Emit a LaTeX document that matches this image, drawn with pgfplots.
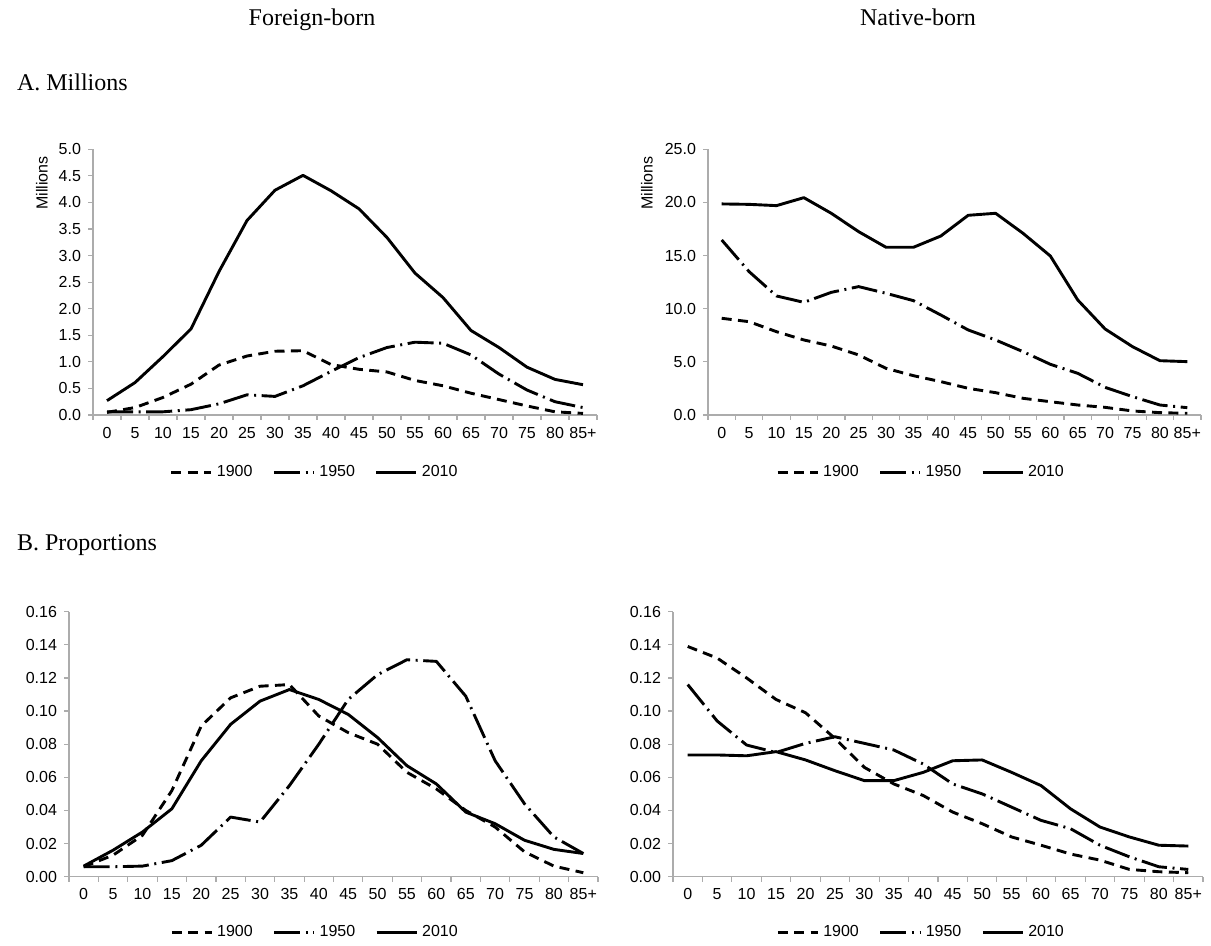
\documentclass[border=0pt]{standalone}
\usepackage{fontspec}
\setmainfont{Liberation Serif}
\newfontfamily\arial{Liberation Sans}
\usepackage{pgfplots}
\usepackage{pgfplotstable}
\pgfplotsset{compat=1.18}

\pgfplotstableread{
x y1900 y1950 y2010
0 0.05 0.06 0.27
1 0.14 0.06 0.61
2 0.33 0.06 1.10
3 0.58 0.10 1.62
4 0.94 0.21 2.70
5 1.11 0.38 3.66
6 1.20 0.35 4.23
7 1.21 0.55 4.51
8 0.95 0.82 4.22
9 0.86 1.08 3.88
10 0.81 1.27 3.34
11 0.65 1.37 2.67
12 0.55 1.35 2.21
13 0.41 1.13 1.59
14 0.29 0.77 1.27
15 0.17 0.47 0.90
16 0.06 0.25 0.67
17 0.03 0.14 0.57
}\FM

\pgfplotstableread{
x y1900 y1950 y2010
0 9.10 16.47 19.86
1 8.78 13.49 19.82
2 7.84 11.20 19.70
3 7.06 10.60 20.45
4 6.49 11.54 18.98
5 5.65 12.08 17.25
6 4.39 11.45 15.78
7 3.70 10.76 15.78
8 3.14 9.41 16.84
9 2.51 8.00 18.79
10 2.10 7.06 18.98
11 1.57 5.96 17.10
12 1.25 4.77 14.96
13 0.94 3.92 10.82
14 0.72 2.60 8.09
15 0.38 1.73 6.43
16 0.22 0.94 5.11
17 0.16 0.69 5.02
}\NM

\pgfplotstableread{
x y1900 y1950 y2010
0 0.006 0.006 0.0064
1 0.013 0.006 0.016
2 0.025 0.0064 0.027
3 0.052 0.0097 0.041
4 0.091 0.019 0.070
5 0.108 0.036 0.092
6 0.115 0.033 0.106
7 0.116 0.055 0.113
8 0.097 0.080 0.107
9 0.087 0.107 0.098
10 0.080 0.122 0.084
11 0.063 0.131 0.067
12 0.053 0.130 0.056
13 0.040 0.109 0.039
14 0.030 0.070 0.032
15 0.015 0.044 0.022
16 0.0064 0.024 0.0165
17 0.0024 0.014 0.014
}\FP

\pgfplotstableread{
x y1900 y1950 y2010
0 0.139 0.116 0.0735
1 0.132 0.094 0.0735
2 0.120 0.0795 0.073
3 0.107 0.075 0.0755
4 0.099 0.0805 0.0705
5 0.0835 0.0845 0.064
6 0.066 0.0805 0.058
7 0.056 0.0765 0.058
8 0.049 0.068 0.063
9 0.039 0.056 0.070
10 0.032 0.050 0.0705
11 0.024 0.042 0.063
12 0.019 0.034 0.055
13 0.0137 0.029 0.041
14 0.010 0.019 0.030
15 0.0044 0.012 0.024
16 0.003 0.006 0.019
17 0.0024 0.0044 0.0185
}\NP

\pgfplotsset{
  excel/.style={
    scale only axis,
    anchor=south west,
    xmin=-0.5, xmax=17.5,
    xtick={0,...,17},
    xticklabels={0,5,10,15,20,25,30,35,40,45,50,55,60,65,70,75,80,85+},
    minor xtick={-0.5,0.5,...,17.5},
    major x tick style={draw=none},
    tick align=outside,
    major tick length=2.5pt,
    minor tick length=2.5pt,
    axis x line*=bottom,
    axis y line*=left,
    axis line style={-, draw=gray!65, line width=0.6pt},
    every tick/.style={gray!65, line width=0.6pt},
    tick label style={font=\arial\fontsize{8}{9.6}\selectfont, text=black},
    /pgf/number format/assume math mode=true,
    legend columns=3,
    legend style={draw=none, fill=none, font=\arial\fontsize{8}{9.6}\selectfont, anchor=center,
      /tikz/every even column/.append style={column sep=8pt}},
    legend image code/.code={\draw[##1] (0pt,0pt) -- (20pt,0pt);},
    clip=false,
  },
  s1900/.style={black, line width=1.45pt, line join=round, dash pattern=on 5pt off 3.2pt},
  s1950/.style={black, line width=1.45pt, line join=round, dash pattern=on 13pt off 2.8pt on 1pt off 2.8pt},
  s2010/.style={black, line width=1.45pt, line join=round},
}

\begin{document}
\begin{tikzpicture}
\useasboundingbox (0,0) rectangle (605.5pt,-473pt);

\node[font=\fontsize{12}{14}\selectfont, anchor=base] at (156pt,-13pt) {Foreign-born};
\node[font=\fontsize{12}{14}\selectfont, anchor=base] at (459pt,-13pt) {Native-born};
\node[font=\fontsize{12}{14}\selectfont, anchor=west] at (5pt,-41pt) {A. Millions};
\node[font=\fontsize{12}{14}\selectfont, anchor=west] at (5pt,-272.5pt) {B. Proportions};
\node[font=\arial\fontsize{8}{9.6}\selectfont, rotate=90] at (21pt,-91.5pt) {Millions};
\node[font=\arial\fontsize{8}{9.6}\selectfont, rotate=90] at (323.5pt,-91.5pt) {Millions};

% A left
\begin{axis}[excel, at={(46.5pt,-207.5pt)}, width=252pt, height=132.85pt,
  ymin=0, ymax=5, ytick={0,0.5,1,1.5,2,2.5,3,3.5,4,4.5,5},
  yticklabel style={/pgf/number format/.cd, fixed, fixed zerofill, precision=1},
  legend style={at={(0.442,-0.215)}}]
\addplot[s1900] table[x=x,y=y1900] {\FM};
\addplot[s1950] table[x=x,y=y1950] {\FM};
\addplot[s2010] table[x=x,y=y2010] {\FM};
\legend{1900,1950,2010}
\end{axis}

% A right
\begin{axis}[excel, at={(354pt,-207.5pt)}, width=246.5pt, height=132.85pt,
  ymin=0, ymax=25, ytick={0,5,10,15,20,25},
  yticklabel style={/pgf/number format/.cd, fixed, fixed zerofill, precision=1},
  legend style={at={(0.434,-0.215)}}]
\addplot[s1900] table[x=x,y=y1900] {\NM};
\addplot[s1950] table[x=x,y=y1950] {\NM};
\addplot[s2010] table[x=x,y=y2010] {\NM};
\legend{1900,1950,2010}
\end{axis}

% B left
\begin{axis}[excel, at={(34.5pt,-438.35pt)}, width=264.5pt, height=132.5pt,
  ymin=0, ymax=0.16, ytick={0,0.02,0.04,0.06,0.08,0.10,0.12,0.14,0.16},
  yticklabel style={/pgf/number format/.cd, fixed, fixed zerofill, precision=2},
  legend style={at={(0.467,-0.209)}}]
\addplot[s1900] table[x=x,y=y1900] {\FP};
\addplot[s1950] table[x=x,y=y1950] {\FP};
\addplot[s2010] table[x=x,y=y2010] {\FP};
\legend{1900,1950,2010}
\end{axis}

% B right
\begin{axis}[excel, at={(336.5pt,-438.35pt)}, width=265pt, height=132.5pt,
  ymin=0, ymax=0.16, ytick={0,0.02,0.04,0.06,0.08,0.10,0.12,0.14,0.16},
  yticklabel style={/pgf/number format/.cd, fixed, fixed zerofill, precision=2},
  legend style={at={(0.47,-0.209)}}]
\addplot[s1900] table[x=x,y=y1900] {\NP};
\addplot[s1950] table[x=x,y=y1950] {\NP};
\addplot[s2010] table[x=x,y=y2010] {\NP};
\legend{1900,1950,2010}
\end{axis}
\end{tikzpicture}
\end{document}
